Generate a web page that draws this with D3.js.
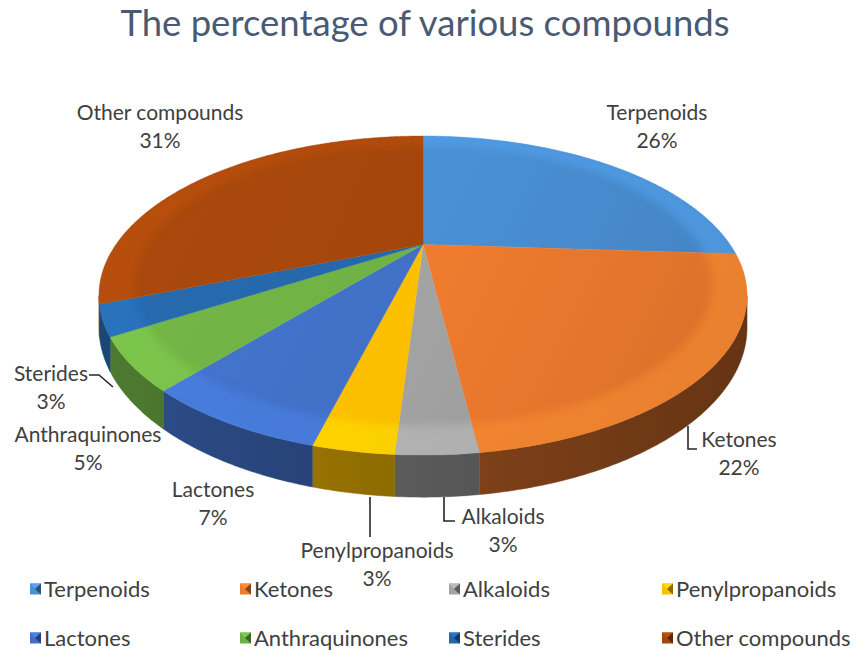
<!DOCTYPE html>
<html>
<head>
<meta charset="utf-8">
<script src="https://cdn.jsdelivr.net/npm/d3@7"></script>
<style>
body { margin: 0; background: #fff; }
text { font-family: Lato, "Open Sans", sans-serif; }
</style>
</head>
<body>
<svg id="chart" width="858" height="652"></svg>
<script>
// values
const categories = ["Terpenoids", "Ketones", "Alkaloids", "Penylpropanoids", "Lactones", "Anthraquinones", "Sterides", "Other compounds"];
const percents = [26, 22, 3, 3, 7, 5, 3, 31];
const sliceColors = ["#4a8fd4", "#ef7b2e", "#a3a3a3", "#fcbf00", "#4170c6", "#6fb044", "#2566a8", "#a3460c"];
const legendRows = [[0, 1, 2, 3], [4, 5, 6, 7]];

// layout of the data labels (centre of first line) and their leader lines
const labelPos = {
    "Terpenoids": [657, 113], "Ketones": [739, 440], "Alkaloids": [503, 517],
    "Penylpropanoids": [377, 551], "Lactones": [213, 490], "Anthraquinones": [88, 435],
    "Sterides": [51, 374], "Other compounds": [160, 113]
};
const leaders = {
    "Ketones": [[688, 426], [688, 449], [697, 449]],
    "Alkaloids": [[444, 497], [444, 521], [455, 521]],
    "Penylpropanoids": [[370, 497], [370, 537]],
    "Sterides": [[89, 375], [99, 375], [113, 387]]
};

const svg = d3.select("#chart");
const defs = svg.append("defs");
const color = d3.scaleOrdinal().domain(categories).range(sliceColors);

// 3D pie projection (perspective view of a tilted disc)
const cx = 423, cy = 244.5, rx = 307, ry = 143.2, persp = 0.32, depth = 28.6;
function proj(a, r, off) {
    const X = r * Math.sin(a), Z = -r * Math.cos(a), w = 1 - persp * Z;
    return [cx + rx * X / w, cy + (ry * Z + off) / w];
}
function arcPts(a0, a1, r, off) {
    const n = Math.max(2, Math.ceil(Math.abs(a1 - a0) / 0.01));
    return d3.range(n + 1).map(i => proj(a0 + (a1 - a0) * i / n, r, off));
}
const line = d3.line();
const wallFrom = Math.acos(-persp), wallTo = 2 * Math.PI - wallFrom;

const pie = d3.pie().sort(null).value(d => d.value);
const arcs = pie(categories.map((c, i) => ({ name: c, value: percents[i] })));

// gradients
arcs.forEach((d, i) => {
    const c = color(d.data.name);
    const g = defs.append("linearGradient").attr("id", "top" + i)
        .attr("gradientUnits", "userSpaceOnUse")
        .attr("x1", 100).attr("y1", 136).attr("x2", 747).attr("y2", 455);
    g.append("stop").attr("offset", 0).attr("stop-color", d3.color(c).brighter(0.15));
    g.append("stop").attr("offset", 0.5).attr("stop-color", c);
    g.append("stop").attr("offset", 1).attr("stop-color", d3.color(c).darker(0.3));

    const w = defs.append("linearGradient").attr("id", "wall" + i)
        .attr("gradientUnits", "userSpaceOnUse")
        .attr("x1", 100).attr("y1", 0).attr("x2", 747).attr("y2", 0);
    w.append("stop").attr("offset", 0).attr("stop-color", d3.color(c).darker(1.0));
    w.append("stop").attr("offset", 0.5).attr("stop-color", d3.color(c).darker(1.7));
    w.append("stop").attr("offset", 1).attr("stop-color", d3.color(c).darker(2.4));

    defs.append("clipPath").attr("id", "clip" + i)
        .append("path")
        .attr("d", line([[cx, cy]].concat(arcPts(d.startAngle, d.endAngle, 1, 0))) + "Z");
});
defs.append("filter").attr("id", "soft").attr("x", "-20%").attr("y", "-20%")
    .attr("width", "140%").attr("height", "140%")
    .append("feGaussianBlur").attr("stdDeviation", 4);

const pieG = svg.append("g");

// outer walls (only the front part shows)
arcs.forEach((d, i) => {
    const a0 = Math.max(d.startAngle, wallFrom), a1 = Math.min(d.endAngle, wallTo);
    if (a1 <= a0) return;
    const pts = arcPts(a0, a1, 1, 0).concat(arcPts(a1, a0, 1, depth));
    pieG.append("path").attr("d", line(pts) + "Z")
        .attr("fill", "url(#wall" + i + ")")
        .attr("stroke", "url(#wall" + i + ")").attr("stroke-width", 0.5);
});

// top faces
arcs.forEach((d, i) => {
    pieG.append("path")
        .attr("d", line([[cx, cy]].concat(arcPts(d.startAngle, d.endAngle, 1, 0))) + "Z")
        .attr("fill", "url(#top" + i + ")")
        .attr("stroke", "url(#top" + i + ")").attr("stroke-width", 0.4);
    // bevel highlight along the rim
    const band = arcPts(d.startAngle - 0.05, d.endAngle + 0.05, 1.02, 0)
        .concat(arcPts(d.endAngle + 0.05, d.startAngle - 0.05, 0.9, 0));
    pieG.append("g").attr("clip-path", "url(#clip" + i + ")")
        .append("path").attr("d", line(band) + "Z")
        .attr("fill", d3.color(color(d.data.name)).brighter(0.6))
        .attr("opacity", 0.4)
        .attr("filter", "url(#soft)");
});

// leader lines
Object.entries(leaders).forEach(([k, pts]) => {
    svg.append("path").attr("d", line(pts))
        .attr("fill", "none").attr("stroke", "#262626").attr("stroke-width", 1.6);
});

// data labels
arcs.forEach(d => {
    const [x, y] = labelPos[d.data.name];
    const t = svg.append("text").attr("text-anchor", "middle")
        .attr("fill", "#404040").attr("font-size", 21);
    t.append("tspan").attr("x", x).attr("y", y).attr("dy", "0.35em").text(d.data.name);
    t.append("tspan").attr("x", x).attr("y", y + 28).attr("dy", "0.35em").text(d.data.value + "%");
});

// title
svg.append("text").attr("x", 425).attr("y", 36)
    .attr("text-anchor", "middle").attr("fill", "#4a5a72")
    .attr("font-size", 36.5).text("The percentage of various compounds");

// legend
const colX = [30, 240, 449, 662], rowY = [589, 638];
legendRows.forEach((row, r) => {
    row.forEach((idx, c) => {
        const name = categories[idx], col = color(name);
        const x = colX[c], y = rowY[r], s = 11;
        const g = svg.append("g").attr("transform", `translate(${x},${y - s / 2})`);
        g.append("rect").attr("width", s).attr("height", s).attr("fill", col);
        g.append("path").attr("d", `M0,0L${s},0L${s * 0.45},${s / 2}Z`)
            .attr("fill", d3.color(col).brighter(0.4));
        g.append("path").attr("d", `M${s},0L${s * 0.45},${s / 2}L${s},${s}Z`)
            .attr("fill", d3.color(col).darker(1.6));
        svg.append("text").attr("x", x + 14).attr("y", y).attr("dy", "0.35em")
            .attr("fill", "#404040").attr("font-size", 22).text(name);
    });
});
</script>
</body>
</html>
